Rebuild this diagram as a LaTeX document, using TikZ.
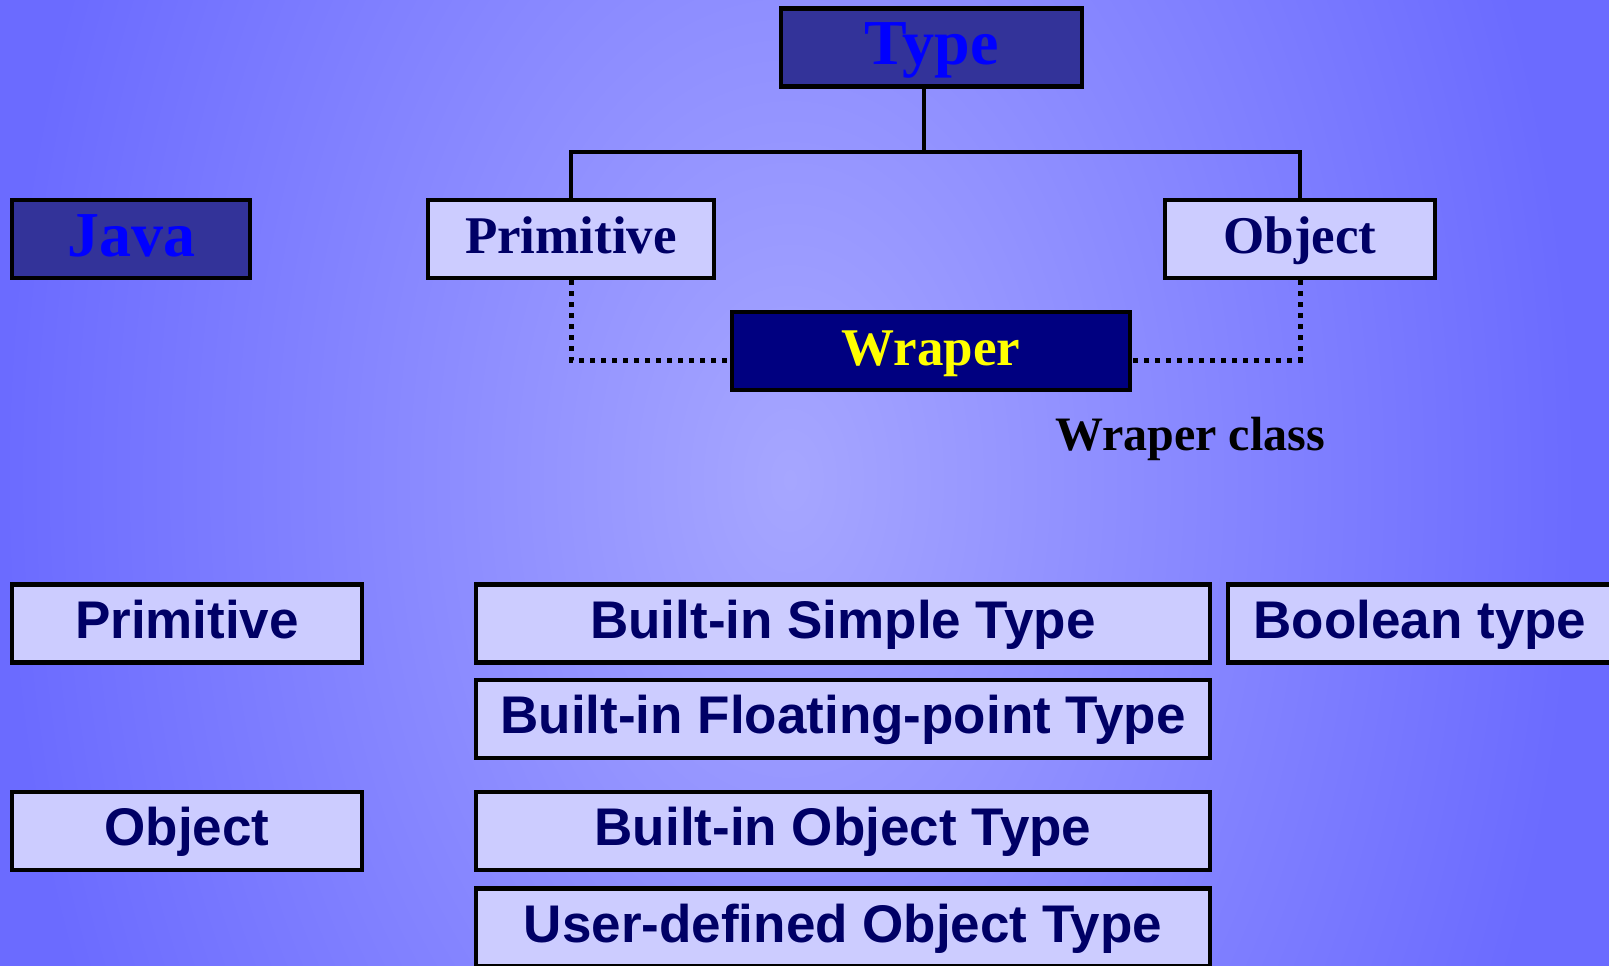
\documentclass[tikz,border=0pt]{standalone}
\usepackage{fontspec}
\setmainfont{Liberation Serif}
\setsansfont{Liberation Sans}

\definecolor{bgedge}{RGB}{107,107,255}
\definecolor{bgcore}{RGB}{166,166,255}
\definecolor{headfill}{RGB}{51,51,153}
\definecolor{headtext}{RGB}{0,0,255}
\definecolor{lightfill}{RGB}{204,204,255}
\definecolor{navytext}{RGB}{0,0,102}
\definecolor{wrapfill}{RGB}{0,0,128}
\definecolor{wraptext}{RGB}{255,255,0}

% soft glow behind the whole slide (path box maps to the inner 25bp radius)
\pgfdeclareradialshading{bgglow}{\pgfpoint{0bp}{0bp}}{%
  color(0bp)=(bgcore); color(24bp)=(bgedge); color(50bp)=(bgedge)}

\tikzset{
  boxbase/.style={draw=black, line width=4.5pt, inner sep=0pt,
    minimum height=78pt},
  headbox/.style={boxbase, fill=headfill, text=headtext,
    font=\bfseries\fontsize{64}{70}\selectfont,
    text height=45pt, text depth=10pt},
  serifbox/.style={boxbase, fill=lightfill, text=navytext,
    font=\bfseries\fontsize{53}{60}\selectfont,
    text height=37pt, text depth=8pt},
  wrapbox/.style={boxbase, fill=wrapfill, text=wraptext,
    font=\bfseries\fontsize{53}{60}\selectfont,
    text height=37pt, text depth=8pt},
  sansbox/.style={boxbase, fill=lightfill, text=navytext,
    font=\sffamily\bfseries\fontsize{53}{60}\selectfont,
    text height=37pt, text depth=8pt},
  caption/.style={inner sep=0pt, text=black,
    font=\bfseries\fontsize{48}{54}\selectfont},
  tree/.style={draw=black, line width=4pt, line join=miter},
  dotline/.style={draw=black, line width=5pt, dash pattern=on 5pt off 6pt}
}

\begin{document}
\begin{tikzpicture}[x=1pt,y=-1pt]
\useasboundingbox (0,0) rectangle (1609,966);
\clip (0,0) rectangle (1609,966);
\shade[shading=bgglow] (-30,-780) rectangle (1610,1740);

% upper part: type hierarchy
\node[headbox, minimum width=301pt] (type) at (931.5,47.5) {Type};
\node[headbox, minimum width=238pt] (java) at (131,239) {Java};
\node[serifbox, minimum width=286pt] (prim) at (571,239) {Primitive};
\node[serifbox, minimum width=270pt] (obj) at (1300,239) {Object};
\node[wrapbox, minimum width=398pt] (wrap) at (931,351) {Wraper};
\node[caption, anchor=base] (wrapcls) at (1190,450) {Wraper class};

\coordinate (busy) at (0,152);
\coordinate (doty) at (0,360);
\coordinate (stem) at (924,0);

\draw[tree] (type.south -| stem) -- (busy -| stem);
\draw[tree] (prim.north) |- (obj.north |- busy) -- (obj.north);

\draw[dotline] (prim.south) |- (wrap.west |- doty);
\draw[dotline] (obj.south) |- (wrap.east |- doty);

% lower part: language comparison
\node[sansbox, minimum width=350pt] (bprim) at (187,623.5) {Primitive};
\node[sansbox, minimum width=734pt] (simple) at (843,623.5) {Built-in Simple Type};
\node[sansbox, minimum width=384pt] (bool) at (1420,623.5) {Boolean type};
\node[sansbox, minimum width=734pt] (float) at (843,719) {Built-in Floating-point Type};
\node[sansbox, minimum width=350pt] (bobj) at (187,831) {Object};
\node[sansbox, minimum width=734pt] (bobjt) at (843,831) {Built-in Object Type};
\node[sansbox, minimum width=734pt] (user) at (843,927.5) {User-defined Object Type};
\end{tikzpicture}
\end{document}
